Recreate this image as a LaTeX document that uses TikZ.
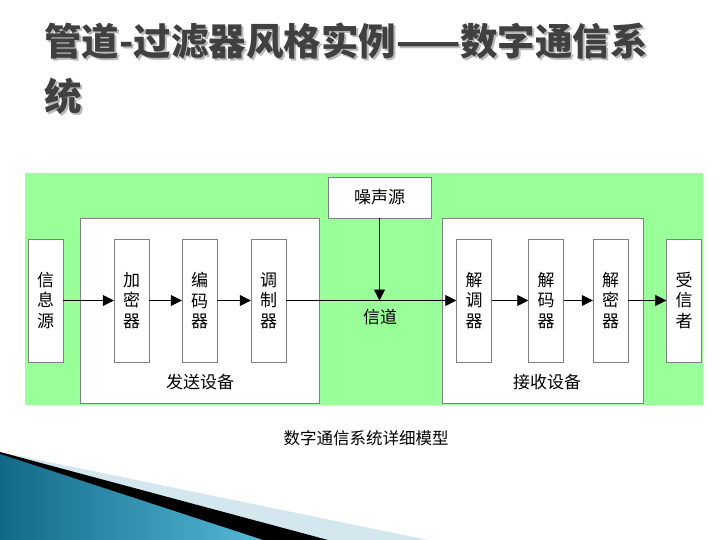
\documentclass[tikz,border=0pt]{standalone}
\usepackage{fontspec}
\newfontfamily\cjk{Noto Sans CJK SC}
\usetikzlibrary{arrows.meta}

\definecolor{bggreen}{RGB}{153,255,153}
\definecolor{boxgray}{RGB}{128,128,128}
\definecolor{titlegray}{RGB}{64,64,64}
\definecolor{shadowgray}{RGB}{185,185,185}
\definecolor{tealdark}{RGB}{18,105,135}
\definecolor{teallight}{RGB}{85,185,215}
\definecolor{paleblue}{RGB}{212,230,238}

% title text with a light drop shadow
\newcommand{\shadowtext}[1]{\makebox[0pt][l]{\hspace{2pt}\raisebox{-2pt}{\color{shadowgray}#1}}#1}

\begin{document}
\begin{tikzpicture}[x=1pt, y=-1pt,
    unit/.style = {shape=rectangle, draw=boxgray, fill=white,
      minimum width=35pt, minimum height=123pt, inner sep=0pt,
      align=center, font=\cjk\fontsize{17}{20.5}\selectfont},
    device/.style = {draw=boxgray, fill=white},
    label/.style = {font=\cjk\fontsize{17}{20}\selectfont},
    flow/.style = {draw=black, line width=0.8pt,
      -{Triangle[length=11pt,width=11pt]}},
    titletext/.style = {anchor=west, inner sep=0pt, text=titlegray,
      font=\cjk\bfseries\fontsize{37.5}{38}\selectfont}]
    \useasboundingbox (0,0) rectangle (720,540);
    \fill[white] (0,0) rectangle (720,540);

    % title
    \node[titletext] (ttla) at (44,42) {\shadowtext{管道-过滤器风格实例——数字通信系}};
    \node[titletext] (ttlb) at (44,97) {\shadowtext{统}};

    % green panel
    \fill[bggreen] (25,173) rectangle (703,405);
    \draw[device] (80,218) rectangle (319,403);
    \draw[device] (442,218) rectangle (643,403);
    \node[label] (senderlbl) at (200,382) {发送设备};
    \node[label] (receiverlbl) at (547,382) {接收设备};

    \node[unit] (src) at (45.5,300.5) {信\\息\\源};
    \node[unit] (encrypt) at (131.5,300.5) {加\\密\\器};
    \node[unit] (encode) at (199.5,300.5) {编\\码\\器};
    \node[unit] (modul) at (268.5,300.5) {调\\制\\器};
    \node[unit] (demodul) at (474,300.5) {解\\调\\器};
    \node[unit] (decode) at (546,300.5) {解\\码\\器};
    \node[unit] (decrypt) at (610.5,300.5) {解\\密\\器};
    \node[unit] (sink) at (684,300.5) {受\\信\\者};

    \node[unit, minimum width=103pt, minimum height=41pt] (noise) at (379.5,197.5) {噪声源};
    \coordinate (chan) at (379.5,300.5);
    \node[label] (chanlbl) at (380,317) {信道};

    \draw[flow] (src) -- (encrypt);
    \draw[flow] (encrypt) -- (encode);
    \draw[flow] (encode) -- (modul);
    \draw[flow] (modul) -- (demodul);
    \draw[flow] (noise) -- (chan);
    \draw[flow] (demodul) -- (decode);
    \draw[flow] (decode) -- (decrypt);
    \draw[flow] (decrypt) -- (sink);

    \node[font=\cjk\fontsize{16.5}{16}\selectfont] (caption) at (366,438) {数字通信系统详细模型};

    % corner decoration
    \fill[paleblue] (0,452) -- (428,540) -- (0,540) -- cycle;
    \fill[black] (0,452) -- (328,540) -- (0,540) -- cycle;
    \shade[left color=tealdark, right color=teallight] (0,454) -- (263,540) -- (0,540) -- cycle;
\end{tikzpicture}
\end{document}
